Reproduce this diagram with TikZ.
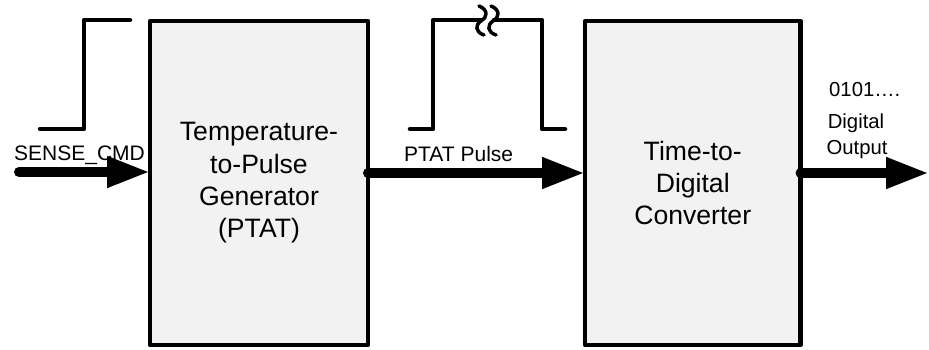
\documentclass[tikz,border=0pt]{standalone}
\usepackage{fontspec}
\setmainfont{Liberation Sans}
\usetikzlibrary{arrows.meta}
\definecolor{boxgray}{HTML}{F2F2F2}
\begin{document}
\begin{tikzpicture}[x=1pt,y=-1pt,
  blockbox/.style={draw, line width=4.3pt, fill=boxgray, rectangle, outer sep=0pt, inner sep=0pt, align=center, font=\fontsize{26.6}{32.3}\selectfont, line join=round},
  sig/.style={line width=10pt, line cap=round, -{Triangle[length=43pt,width=29pt]}},
  wave/.style={line width=4.5pt, line cap=round, line join=round},
  lbl/.style={font=\fontsize{21}{26}\selectfont, inner sep=0pt}]
\useasboundingbox (0,0) rectangle (929,349);
\node[blockbox, minimum width=218pt, minimum height=324pt] (gen) at (259,183) {Temperature-\\to-Pulse\\Generator\\(PTAT)};
\node[blockbox, minimum width=215.5pt, minimum height=324pt] (tdc) at (692.75,183) {Time-to-\\Digital\\Converter};
% labels
\node[lbl, anchor=base west] (sense) at (14,160) {SENSE\_CMD};
\node[lbl, anchor=base west] (ptat) at (404,161) {PTAT Pulse};
\node[lbl, font=\fontsize{20.3}{24}\selectfont, anchor=base west] (bits) at (829,96) {0101….};
\node[lbl, font=\fontsize{20.3}{24}\selectfont, anchor=base] (dig) at (856,128) {Digital};
\node[lbl, font=\fontsize{20.3}{24}\selectfont, anchor=base] (outp) at (857,154) {Output};
% connectors
\coordinate (in) at (19,172);
\coordinate (lev) at (0,173);
\coordinate (out) at (929,173);
\draw[sig] (in) -- (in -| gen.west);
\draw[sig] (gen.east |- lev) -- (tdc.west |- lev);
\draw[sig] (tdc.east |- lev) -- (out);
% waveforms
\draw[wave] (40,129) -- (84,129) -- (84,20) -- (130,20);
\draw[wave] (410,129) -- (433,129) -- (433,20) -- (481,20);
\draw[wave] (494,20) -- (542,20) -- (542,129) -- (565,129);
\draw[wave, line width=3.5pt] (479,6) .. controls (489,10) and (487,18) .. (481,21) .. controls (475,25) and (475,32) .. (484,35);
\draw[wave, line width=3.5pt] (491,6) .. controls (501,10) and (499,18) .. (493,21) .. controls (487,25) and (487,32) .. (496,35);
\end{tikzpicture}
\end{document}
